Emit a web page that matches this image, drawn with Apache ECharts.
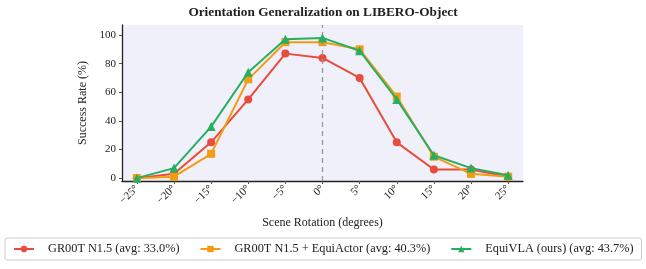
<!DOCTYPE html>
<html>
<head>
<meta charset="utf-8">
<script src="https://cdn.jsdelivr.net/npm/echarts@6/dist/echarts.min.js"></script>
<style>html,body{margin:0;padding:0;background:#fff}#c{width:646px;height:269px}</style>
</head>
<body>
<div id="c"></div>
<script>
var rotations = [-25, -20, -15, -10, -5, 0, 5, 10, 15, 20, 25];
var gr00t = [0, 3, 25, 55, 87, 84, 70, 25, 6, 6, 1];
var equiActor = [0, 1, 17, 69, 95, 95, 90, 57, 15, 3, 1];
var equiVLA = [0, 7, 36, 74, 97, 98, 89, 55, 16, 7, 2];
var seriesNames = ['GR00T N1.5 (avg: 33.0%)', 'GR00T N1.5 + EquiActor (avg: 40.3%)', 'EquiVLA (ours) (avg: 43.7%)'];
var xTicks = [-25, -20, -15, -10, -5, 0, 5, 10, 15, 20, 25];
var yTicks = [0, 20, 40, 60, 80, 100];

var FONT = '"Liberation Serif", "DejaVu Serif", serif';
function pairs(vals) { return rotations.map(function (r, i) { return [r, vals[i]]; }); }

var chart = echarts.init(document.getElementById('c'), null, {renderer: 'canvas'});
chart.setOption({
  backgroundColor: '#ffffff',
  animation: false,
  title: {
    text: 'Orientation Generalization on LIBERO-Object',
    left: 'center', top: 1,
    textStyle: {fontFamily: FONT, fontWeight: 'bold', fontSize: 13.3, color: '#222'}
  },
  grid: {left: 122, right: 123, top: 25, bottom: 88, show: true, backgroundColor: '#f0f0fa', borderWidth: 0},
  legend: {
    left: 5, top: 238,
    padding: [5, 8, 5, 8],
    borderColor: '#cccccc', borderWidth: 1, borderRadius: 2,
    itemWidth: 20, itemHeight: 8, itemGap: 20,
    textStyle: {fontFamily: FONT, fontSize: 12.3, color: '#222', padding: [0, 0, 0, 9]},
    data: seriesNames
  },
  xAxis: {
    type: 'value', min: -27, max: 27,
    name: 'Scene Rotation (degrees)', nameLocation: 'middle', nameGap: 36,
    nameTextStyle: {fontFamily: FONT, fontSize: 12, color: '#222'},
    axisLine: {show: true, onZero: false, lineStyle: {color: '#222', width: 1.3}},
    axisTick: {show: true, length: 3, customValues: xTicks, lineStyle: {color: '#555'}},
    axisLabel: {
      customValues: xTicks, rotate: 45, margin: 6,
      fontFamily: FONT, fontSize: 11, color: '#222',
      formatter: function (v) { return (v < 0 ? '\u2212' + Math.abs(v) : String(v)) + '\u00b0'; }
    },
    splitLine: {show: false}
  },
  yAxis: {
    type: 'value', min: -2, max: 107,
    name: 'Success Rate (%)', nameLocation: 'middle', nameGap: 33,
    nameTextStyle: {fontFamily: FONT, fontSize: 12, color: '#222'},
    axisLine: {show: true, onZero: false, lineStyle: {color: '#222', width: 1.3}},
    axisTick: {show: true, length: 3, customValues: yTicks, lineStyle: {color: '#555'}},
    axisLabel: {customValues: yTicks, margin: 6, fontFamily: FONT, fontSize: 11, color: '#222'},
    splitLine: {show: false}
  },
  series: [
    {
      name: seriesNames[0], type: 'line', data: pairs(gr00t),
      color: '#e74c3c', symbol: 'circle', symbolSize: 8,
      lineStyle: {width: 2}, z: 3,
      markLine: {
        silent: true, symbol: 'none', label: {show: false},
        lineStyle: {color: '#999999', type: [5, 4], width: 1.3},
        data: [{xAxis: 0}]
      }
    },
    {
      name: seriesNames[1], type: 'line', data: pairs(equiActor),
      color: '#f39c12', symbol: 'rect', symbolSize: 8,
      lineStyle: {width: 2}, z: 4
    },
    {
      name: seriesNames[2], type: 'line', data: pairs(equiVLA),
      color: '#27ae60', symbol: 'triangle', symbolSize: 9,
      lineStyle: {width: 2}, z: 5
    }
  ]
});
</script>
</body>
</html>
